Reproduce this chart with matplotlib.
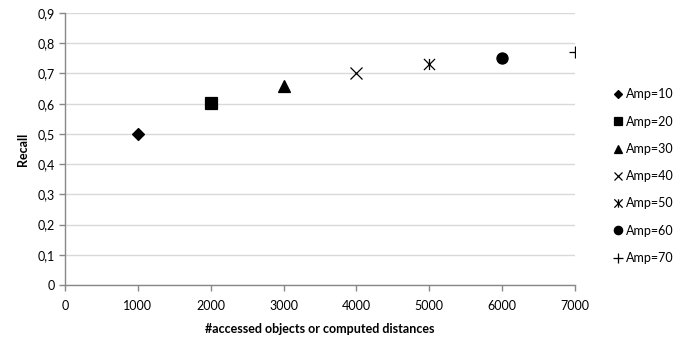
import numpy as np
import matplotlib.pyplot as plt
from matplotlib.path import Path
from matplotlib.ticker import FuncFormatter

plt.rcParams['font.family'] = ['Lato', 'DejaVu Sans']

accessed = [1000, 2000, 3000, 4000, 5000, 6000, 7000]
recall = [0.50, 0.603, 0.66, 0.70, 0.73, 0.75, 0.77]
labels = ["Amp=10", "Amp=20", "Amp=30", "Amp=40", "Amp=50", "Amp=60", "Amp=70"]

# x with a vertical bar, like the spreadsheet "star" marker
star = Path([(-1, -1), (1, 1), (-1, 1), (1, -1), (0, -1), (0, 1)],
            [Path.MOVETO, Path.LINETO, Path.MOVETO, Path.LINETO, Path.MOVETO, Path.LINETO])
styles = [("D", 6), ("s", 8), ("^", 8), ("x", 8), (star, 8), ("o", 8), ("+", 9)]

fig = plt.figure(figsize=(6.81, 3.39), dpi=100)
ax = fig.add_axes([65 / 681, 54 / 339, 510 / 681, 272 / 339])

for x, y, lab, (m, s) in zip(accessed, recall, labels, styles):
    ax.plot(x, y, linestyle="none", marker=m, markersize=s, color="black",
            markeredgewidth=0.9, label=lab)

ax.set_xlim(0, 7000)
ax.set_ylim(0, 0.9)
ax.set_xticks(np.arange(0, 7001, 1000))
ax.set_yticks(np.arange(0, 0.91, 0.1))
ax.yaxis.set_major_formatter(FuncFormatter(lambda v, p: "0" if abs(v) < 1e-9 else f"{v:.1f}".replace(".", ",")))
ax.grid(axis="y", color="#d9d9d9", linewidth=1)
ax.set_axisbelow(True)
for side in ["top", "right"]:
    ax.spines[side].set_visible(False)
for side in ["left", "bottom"]:
    ax.spines[side].set_color("#888888")
    ax.spines[side].set_linewidth(1)
ax.tick_params(axis="both", colors="#888888", labelcolor="black", labelsize=9, length=4, width=1)
ax.tick_params(axis="x", pad=7)

ax.set_xlabel("#accessed objects or computed distances", fontsize=9, fontweight="bold", labelpad=8)
ax.set_ylabel("Recall", fontsize=9, fontweight="bold", labelpad=6)

ax.legend(loc="center left", bbox_to_anchor=(1.055, 0.40), frameon=False, fontsize=9,
          handlelength=0.6, handletextpad=0.3, labelspacing=1.22, markerscale=0.75)

fig.savefig("out.png", dpi=100)
